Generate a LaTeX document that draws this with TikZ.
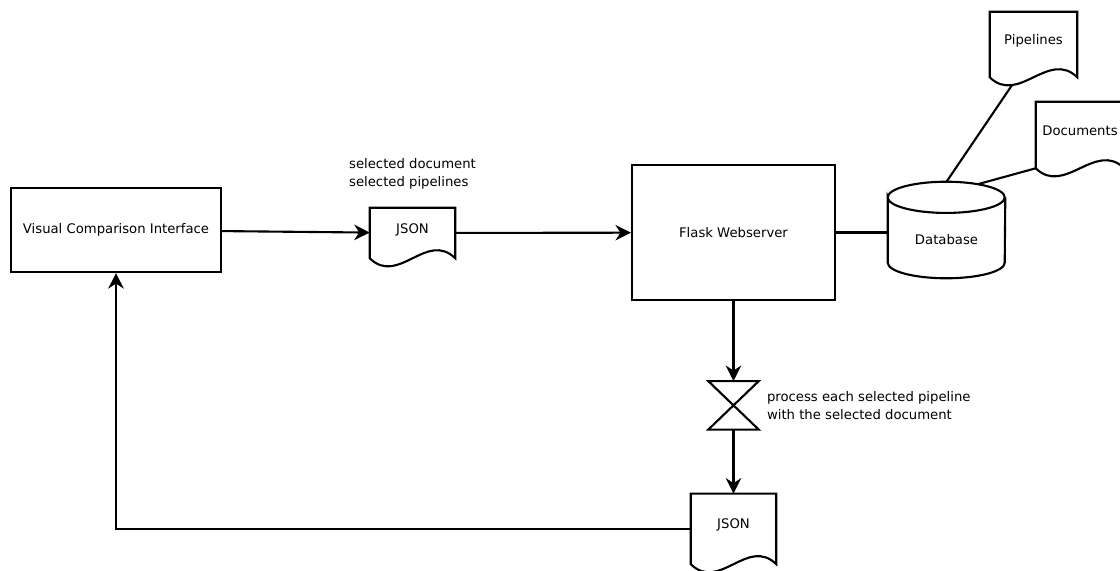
\documentclass[tikz,border=0pt]{standalone}
\usepackage{fontspec}
\setmainfont{DejaVu Sans}
\usetikzlibrary{arrows.meta, positioning}

% document shape with a wavy bottom edge
\newcommand{\docoutline}[1]{%
  \draw[line] (#1.south west) -- (#1.north west) -- (#1.north east) -- (#1.south east)
    .. controls +(-0.72,0.7) and +(0.72,-0.7) .. (#1.south west) -- cycle;}

\begin{document}
\begin{tikzpicture}[
    every node/.style={font=\fontsize{9.4}{12.8}\selectfont},
    block/.style={rectangle, draw, line width=1.5pt, inner sep=0pt},
    doc/.style={rectangle, inner sep=0pt, minimum width=2.125cm, text height=7pt, text depth=7pt},
    note/.style={align=left, inner sep=0pt},
    line/.style={line width=1.5pt},
    arrow/.style={line, -{Stealth[length=11pt, width=11pt, inset=3.5pt]}}
]
\useasboundingbox (0,0) rectangle (28,-14.25);

\node[block, minimum width=5.25cm, minimum height=2.1cm] (vci) at (2.9,-5.75) {Visual Comparison Interface};
\node[doc, minimum height=1.25cm] (json1) at (10.3125,-5.825) {JSON};
\node[note, above=0.45cm of json1] (sel) {selected document\\selected pipelines};
\node[block, minimum width=5.075cm, minimum height=3.375cm] (flask) at (18.3375,-5.8125) {Flask Webserver};
\node[rectangle, minimum width=2.925cm, minimum height=2.4cm, text height=21pt, text depth=0pt] (db) at (23.6625,-5.75) {Database};
\node[doc, minimum width=2.175cm, minimum height=1.625cm] (pipes) at (25.8375,-1.1125) {Pipelines};
\node[doc, minimum width=2.2cm, minimum height=1.65cm] (docs) at (27,-3.375) {Documents};
\node[minimum width=1.25cm, minimum height=1.2cm, below=2cm of flask] (coll) {};
\node[note, right=0.2cm of coll] (proc) {process each selected pipeline\\with the selected document};
\node[doc, minimum height=1.75cm, below=1.6cm of coll] (json2) {JSON};

% shapes
\docoutline{json1}
\docoutline{pipes}
\docoutline{docs}
\docoutline{json2}
\draw[line] (coll.north west) -- (coll.north east) -- (coll.south west) -- (coll.south east) -- cycle;
\draw[line] ([yshift=-0.39cm]db.north west)
    arc[start angle=180, end angle=0, x radius=1.4625cm, y radius=0.39cm]
    arc[start angle=0, end angle=-180, x radius=1.4625cm, y radius=0.39cm]
    -- ([yshift=0.39cm]db.south west)
    arc[start angle=180, end angle=360, x radius=1.4625cm, y radius=0.39cm]
    -- ([yshift=-0.39cm]db.north east);

% connectors
\draw[arrow] (vci) -- (json1);
\draw[arrow] (json1) -- (flask);
\draw[line] (flask.east) -- (flask.east -| db.west);
\draw[line] ([shift={(-0.54,-0.2)}]pipes.south) -- (db.north);
\draw[line] (docs.south west) -- ([shift={(0.79,-0.06)}]db.north);
\draw[arrow] (flask) -- (coll);
\draw[arrow] (coll) -- (json2);
\draw[arrow] (json2.west) -| (vci.south);
\end{tikzpicture}
\end{document}
